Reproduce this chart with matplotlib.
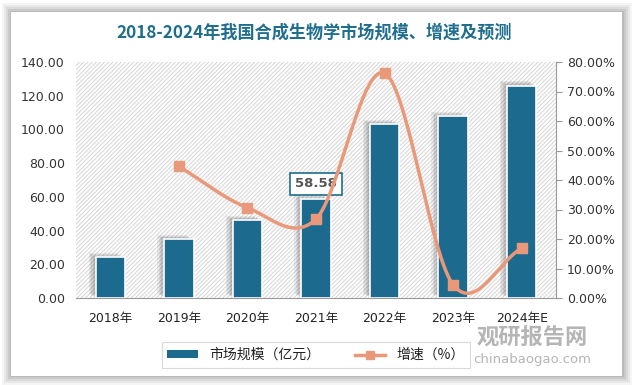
import numpy as np
import matplotlib
matplotlib.use("Agg")
import matplotlib.pyplot as plt
import matplotlib.patheffects as pe
from matplotlib.patches import Rectangle, Patch
from matplotlib.lines import Line2D

plt.rcParams['font.family'] = ['DejaVu Sans', 'Noto Sans CJK SC']
plt.rcParams['hatch.linewidth'] = 0.8

years = ['2018年', '2019年', '2020年', '2021年', '2022年', '2023年', '2024年E']
market = [24.2, 35.0, 46.2, 58.58, 103.2, 107.8, 126.0]
growth_years_idx = [1, 2, 3, 4, 5, 6]
growth = [44.6, 30.6, 26.8, 76.2, 4.5, 16.9]
left_ticks = [0, 20, 40, 60, 80, 100, 120, 140]
right_ticks = [0, 10, 20, 30, 40, 50, 60, 70, 80]
title = '2018-2024年我国合成生物学市场规模、增速及预测'

BAR = '#1c6b8f'
LINE = '#e9997a'

W, H = 632, 385
fig = plt.figure(figsize=(W/100, H/100), dpi=100)
fig.patch.set_facecolor('white')

# card shadow + card
for i, a in enumerate([0.04, 0.05, 0.06, 0.07, 0.08]):
    pad = (5 - i) * 2
    fig.add_artist(Rectangle(((12 - pad) / W, (10 - pad) / H), (610 + 2*pad) / W, (362 + 2*pad) / H,
                             transform=fig.transFigure, facecolor='black', alpha=a, edgecolor='none', zorder=0))
fig.add_artist(Rectangle((11 / W, 9 / H), 611 / W, 364 / H, transform=fig.transFigure,
                         facecolor='white', edgecolor='none', zorder=0.5))

fig.text(314 / W, 1 - 33 / H, title, ha='center', va='center', fontsize=12.3, fontweight='bold',
         color='#1f6e8e', family=['Noto Sans CJK SC'])

ax = fig.add_axes([76 / W, 1 - 298 / H, 480 / W, 236 / H])
ax.set_zorder(2)
x = np.arange(len(years))
ax.patch.set_facecolor('white')
ax.patch.set_hatch('////////')
ax.patch.set_edgecolor('#d9d9d9')
ax.patch.set_linewidth(0)

bars = ax.bar(x, market, width=0.43, color=BAR, edgecolor='white', linewidth=1.2, zorder=3)
shadow = [pe.SimplePatchShadow(offset=(-dx, dx * 0.6), shadow_rgbFace='#333333', alpha=0.08)
          for dx in (5, 4, 3, 2, 1)]
for b in bars:
    b.set_path_effects(shadow + [pe.Normal()])

ax.set_xlim(-0.5, len(years) - 0.5)
ax.set_ylim(0, 140)
ax.set_yticks(left_ticks)
ax.set_yticklabels([f'{v:.2f}' for v in left_ticks], fontsize=9, color='#333333')
ax.set_xticks(x)
ax.set_xticklabels(years, fontsize=9, color='#222222')
ax.tick_params(axis='y', length=0, pad=8)
ax.tick_params(axis='x', length=0, pad=10)
for s in ['top', 'right', 'left']:
    ax.spines[s].set_visible(False)
ax.spines['bottom'].set_color('#999999')

ax.annotate('58.58', xy=(3, 58.58), xytext=(3, 67.8), ha='center', va='center', fontsize=9.5,
            fontweight='bold', color='#555555', zorder=6,
            bbox=dict(boxstyle='square,pad=0.35', facecolor='white', edgecolor='#1f6e8e', linewidth=1.2))

ax2 = ax.twinx()
ax2.set_zorder(3)
ax2.patch.set_visible(False)
ax2.set_ylim(0, 80)
ax2.set_yticks(right_ticks)
ax2.set_yticklabels([f'{v:.2f}%' for v in right_ticks], fontsize=9, color='#333333')
for s in ['top', 'left', 'bottom']:
    ax2.spines[s].set_visible(False)
ax2.spines['right'].set_color('#999999')
ax2.tick_params(axis='y', length=4, color='#999999', pad=4)

# smoothed line (cubic Hermite / Catmull-Rom, like Excel's smoothed line)
px = np.array(growth_years_idx, dtype=float)
py = np.array(growth, dtype=float)
n = len(px)
m = np.zeros(n)
for i in range(n):
    if i == 0:
        m[i] = (py[1] - py[0]) / (px[1] - px[0])
    elif i == n - 1:
        m[i] = (py[-1] - py[-2]) / (px[-1] - px[-2])
    else:
        m[i] = (py[i + 1] - py[i - 1]) / (px[i + 1] - px[i - 1])
sx, sy = [], []
for i in range(n - 1):
    t = np.linspace(0, 1, 40)
    h = px[i + 1] - px[i]
    h00 = 2*t**3 - 3*t**2 + 1
    h10 = t**3 - 2*t**2 + t
    h01 = -2*t**3 + 3*t**2
    h11 = t**3 - t**2
    sx.extend(px[i] + t * h)
    sy.extend(h00*py[i] + h10*h*m[i] + h01*py[i+1] + h11*h*m[i+1])
ax2.plot(sx, sy, color=LINE, linewidth=2.5, zorder=4, solid_capstyle='round')
ax2.plot(px, py, linestyle='none', marker='s', markersize=7, color=LINE, zorder=5)

# legend
handles = [Patch(facecolor=BAR, edgecolor='none'),
           Line2D([0], [0], color=LINE, linewidth=2.5, marker='s', markersize=6)]
leg = fig.legend(handles, ['市场规模（亿元）', '增速（%）'], loc='center',
                 bbox_to_anchor=(316 / W, 1 - 355 / H), ncol=2, frameon=True,
                 prop={'family': ['Noto Sans CJK SC'], 'size': 10}, handlelength=2.2,
                 columnspacing=2.5, fancybox=False, borderpad=0.4, handleheight=0.5)
leg.get_frame().set_edgecolor('#d0d0d0')
leg.get_frame().set_linewidth(0.8)
for t in leg.get_texts():
    t.set_color('#222222')

# watermark
fig.text(532 / W, 1 - 338 / H, '观研报告网', ha='center', va='center', fontsize=16, fontweight='bold',
         color='#a8a8a8', family=['Noto Sans CJK SC'], alpha=0.85, zorder=10)
fig.text(532 / W, 1 - 359 / H, 'chinabaogao.com', ha='center', va='center', fontsize=9.5,
         color='#a8a8a8', alpha=0.85, zorder=10)

fig.savefig('out.png', dpi=100)
